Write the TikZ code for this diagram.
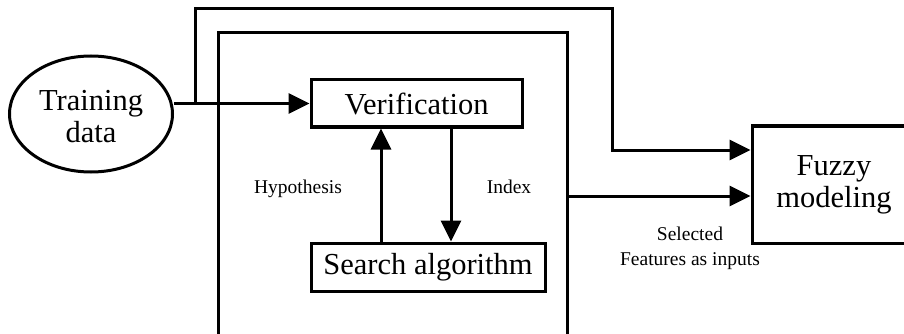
\documentclass[tikz,border=0pt]{standalone}
\usepackage{fontspec}
\setmainfont{Liberation Serif}
\usetikzlibrary{arrows.meta,shapes.geometric}
\newcommand{\lowered}[1]{\raisebox{-3pt}[\height][\depth]{#1}}
\begin{document}
\begin{tikzpicture}[x=1pt,y=-1pt,
  line width=3pt,
  big/.style={font=\fontsize{30.5}{32}\selectfont},
  small/.style={font=\fontsize{19.5}{25}\selectfont},
  block/.style={draw, rectangle, inner sep=0pt, big},
  arr/.style={-{Triangle[length=21pt,width=20pt]}},
]
\useasboundingbox (0,0) rectangle (904,334);

% blocks
\node[draw, ellipse, minimum width=163pt, minimum height=116pt, inner sep=0pt,
      big, align=center] (train) at (91,114) {\lowered{Training}\\\lowered{data}};
\node[block, minimum width=211pt, minimum height=47pt] (ver) at (416.5,103.5) {Verification};
\node[block, minimum width=234pt, minimum height=48pt] (search) at (428,267) {Search algorithm};
\node[block, minimum width=164pt, minimum height=117pt, align=center] (fuzzy) at (834,184.5) {Fuzzy\\modeling};

% open frame around the feature selection loop
\coordinate (fbl) at (218,340);
\coordinate (ftl) at (218,33);
\coordinate (ftr) at (567,33);
\coordinate (fbr) at (567,340);
\draw (fbl) -- (ftl) -- (ftr) -- (fbr);

% training data into verification, with a branch over the top to the model
\coordinate (j) at (ver.west -| 195,0);
\coordinate (top) at (612,9);
\draw[arr] (train.east |- ver.west) -- (ver.west);
\draw[arr] (j) |- (top) |- ([yshift=34.5pt]fuzzy.west);

% loop between verification and search
\draw[arr] (search.north -| 381,0) -- (ver.south -| 381,0);
\draw[arr] (ver.south -| 451,0) -- (search.north -| 451,0);

% selected features out of the frame
\coordinate (out) at (567,196);
\draw[arr] (out) -- (out -| fuzzy.west);

% labels
\node[small, anchor=base] (hyp) at (298,193) {Hypothesis};
\node[small, anchor=base] (idx) at (509,193) {Index};
\node[small, align=center] (sel) at (690,248) {Selected\\Features as inputs};
\end{tikzpicture}
\end{document}
